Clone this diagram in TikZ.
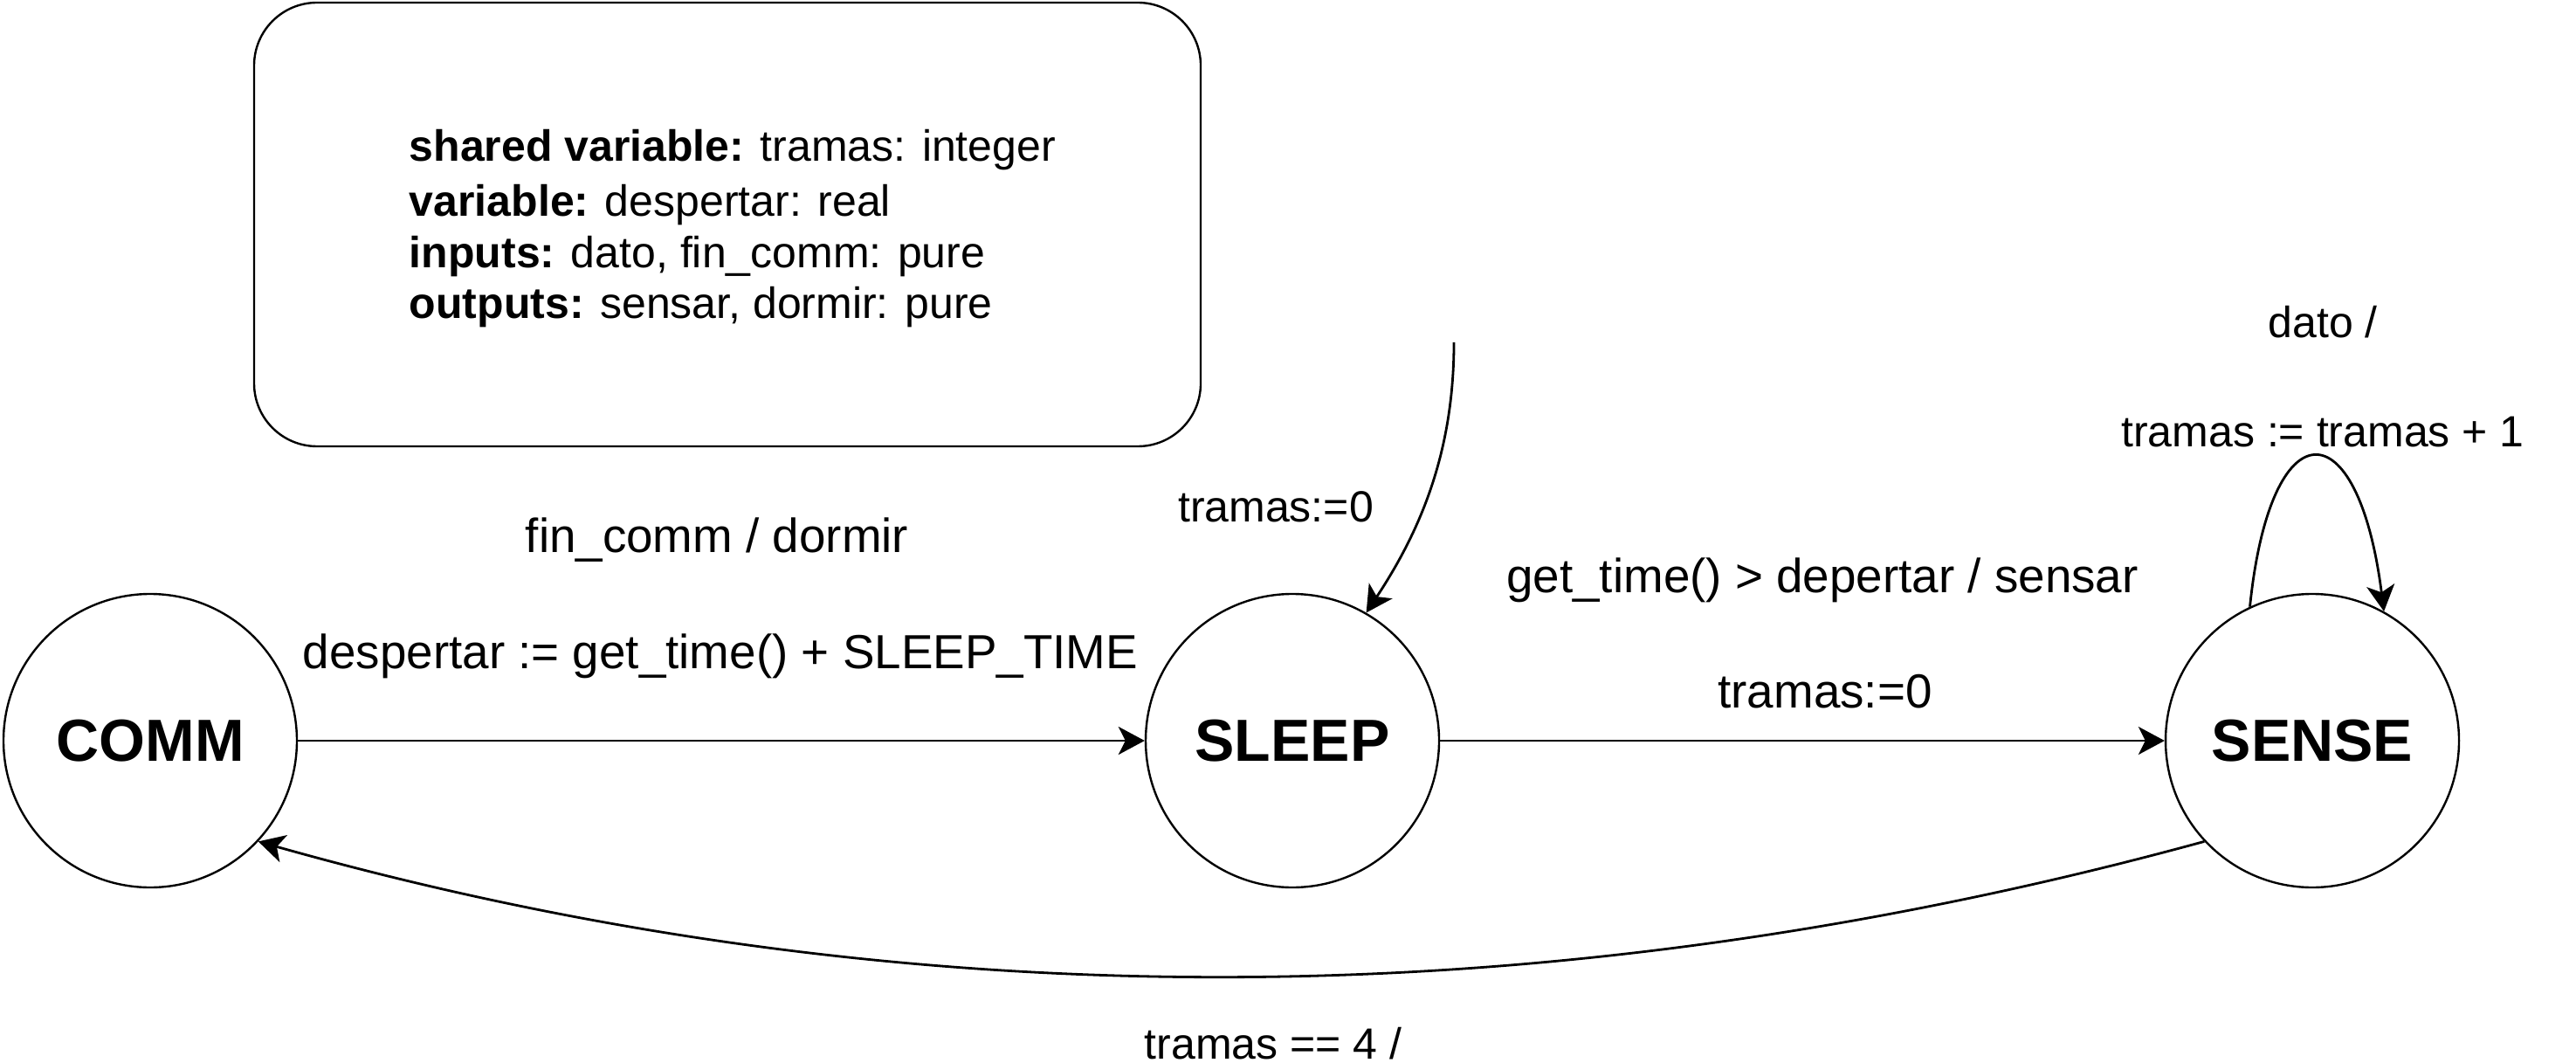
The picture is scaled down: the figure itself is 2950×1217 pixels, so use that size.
\documentclass[tikz,border=0pt]{standalone}
\usepackage{fontspec}
\setmainfont{Liberation Sans}
\usetikzlibrary{arrows.meta}
\begin{document}
\begin{tikzpicture}[x=0.25pt,y=-0.25pt,
  state/.style={circle,draw,line width=0.6pt,minimum size=84pt,inner sep=0pt,
    font=\bfseries\fontsize{17}{20}\selectfont},
  lbl/.style={inner sep=0pt,anchor=base,font=\fontsize{12.5}{15}\selectfont},
  biglbl/.style={lbl,font=\fontsize{13.7}{16}\selectfont},
  decl/.style={inner sep=0pt,anchor=base west,font=\fontsize{12.5}{15}\selectfont},
  arr/.style={line width=0.7pt,-{Stealth[length=7.5pt,width=8pt,inset=2pt]}},
  infobox/.style={draw,line width=0.6pt,rounded corners=18pt}]
\useasboundingbox (0,0) rectangle (2950,1217);
% declaration box
\draw[infobox] (291,3) rectangle (1375,511);
\node[decl] (d1) at (468,185) {\textbf{shared variable:} tramas: integer};
\node[decl] (d2) at (468,248) {\textbf{variable:} despertar: real};
\node[decl] (d3) at (468,307) {\textbf{inputs:} dato, fin\_comm: pure};
\node[decl] (d4) at (468,365) {\textbf{outputs:} sensar, dormir: pure};
% states
\node[state] (comm) at (172,848) {COMM};
\node[state] (sleep) at (1480,848) {SLEEP};
\node[state] (sense) at (2648,848) {SENSE};
% initial arrow
\coordinate (init) at (1665,392);
\draw[arr] (init) .. controls (1665,520) and (1625,610) .. (sleep.60.4);
\node[lbl] (linit) at (1461,598) {tramas:=0};
% comm -> sleep
\draw[arr] (comm) -- (sleep);
\node[biglbl] (l1a) at (821,632) {fin\_comm / dormir};
\node[biglbl] (l1b) at (825,765) {despertar := get\_time() + SLEEP\_TIME};
% sleep -> sense
\draw[arr] (sleep) -- (sense);
\node[biglbl] (l2a) at (2087,678) {get\_time() > depertar / sensar};
\node[biglbl] (l2b) at (2090,810) {tramas:=0};
% self loop
\draw[arr] (sense.115.2) .. controls (2600,465) and (2700,465) .. (sense.61.6);
\node[lbl] (l3a) at (2660,387) {dato /};
\node[lbl] (l3b) at (2660,512) {tramas := tramas + 1};
% sense -> comm
\draw[arr] (sense.223.6) .. controls (1769,1170) and (1025,1169) .. (comm.-43.3);
\node[lbl] (l4) at (1458,1212) {tramas == 4 /};
\end{tikzpicture}
\end{document}
